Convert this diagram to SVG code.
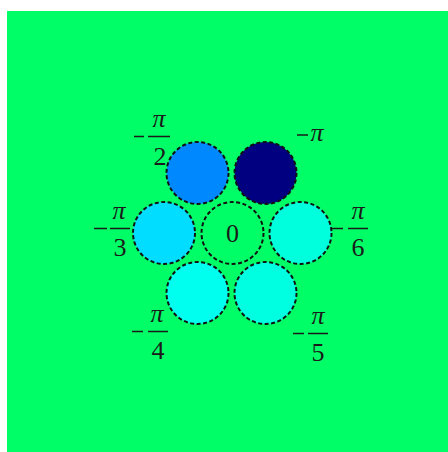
<svg xmlns="http://www.w3.org/2000/svg" width="448" height="452" viewBox="0 0 448 452">
<style>
.n{stroke:#111;stroke-width:2;stroke-dasharray:4 2.5}
.t{font-family:"Liberation Serif","Times New Roman",serif;font-size:26px;fill:#1a1a1a;text-anchor:middle}
.i{font-style:italic}
.bar{stroke:#1a1a1a;stroke-width:1.5}
</style>
<rect x="0" y="0" width="448" height="452" fill="#fff"/>
<rect x="7" y="11" width="441" height="441" fill="#00FF66"/>
<g id="n1"><circle class="n" cx="197.5" cy="173" r="31" fill="#0088FF"/></g>
<g id="n2"><circle class="n" cx="265.5" cy="173" r="31" fill="#000080"/></g>
<g id="n3"><circle class="n" cx="164" cy="233" r="31" fill="#00DDFF"/></g>
<g id="n4"><circle class="n" cx="232.5" cy="233" r="31" fill="none"/><text class="t" x="232.5" y="242">0</text></g>
<g id="n5"><circle class="n" cx="300.5" cy="233" r="31" fill="#00FFDD"/></g>
<g id="n6"><circle class="n" cx="197.5" cy="293" r="31" fill="#00FFEE"/></g>
<g id="n7"><circle class="n" cx="265.5" cy="293" r="31" fill="#00FFE0"/></g>
<g id="labels">
<g id="l1"><line class="bar" x1="134" y1="136.5" x2="144" y2="136.5"/><line class="bar" x1="148" y1="136.5" x2="170" y2="136.5"/><text class="t i" x="159" y="127">π</text><text class="t" x="160" y="165">2</text></g>
<g id="l2"><line class="bar" x1="297" y1="135" x2="308" y2="135"/><text class="t i" x="317" y="141">π</text></g>
<g id="l3"><line class="bar" x1="94" y1="228.5" x2="107" y2="228.5"/><line class="bar" x1="110" y1="228.5" x2="130" y2="228.5"/><text class="t i" x="119" y="219">π</text><text class="t" x="120" y="256">3</text></g>
<g id="l4"><line class="bar" x1="332" y1="228.5" x2="343" y2="228.5"/><line class="bar" x1="348" y1="228.5" x2="368" y2="228.5"/><text class="t i" x="358" y="219">π</text><text class="t" x="358" y="256">6</text></g>
<g id="l5"><line class="bar" x1="132" y1="331.5" x2="143" y2="331.5"/><line class="bar" x1="148" y1="331.5" x2="168" y2="331.5"/><text class="t i" x="157" y="322">π</text><text class="t" x="158" y="359">4</text></g>
<g id="l6"><line class="bar" x1="293" y1="333.5" x2="304" y2="333.5"/><line class="bar" x1="308" y1="333.5" x2="328" y2="333.5"/><text class="t i" x="318" y="324">π</text><text class="t" x="318" y="361">5</text></g>
</g>
</svg>
